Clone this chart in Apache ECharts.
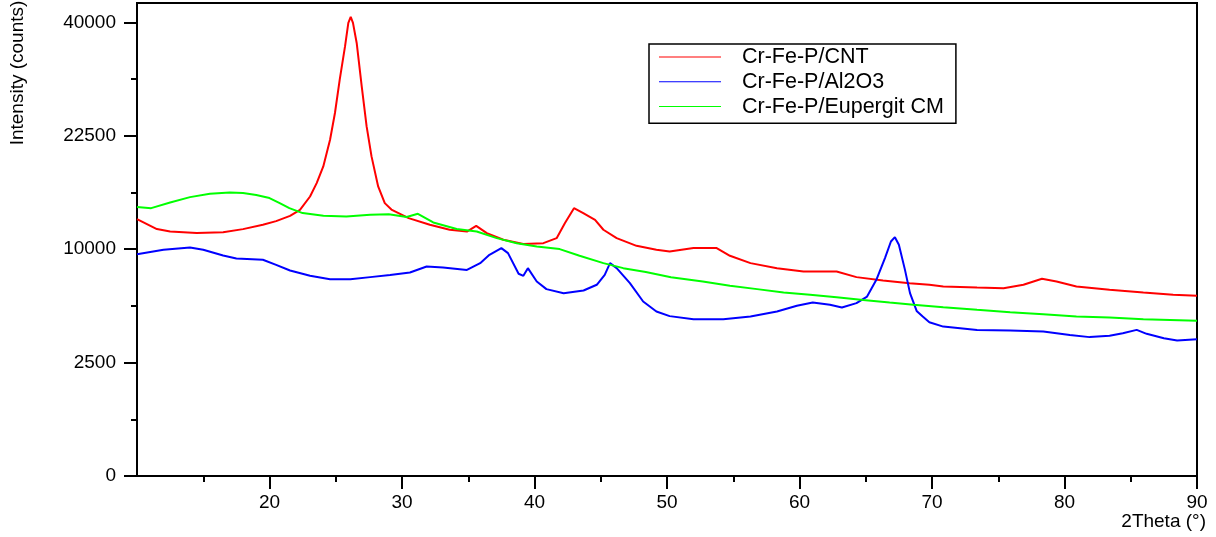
<!DOCTYPE html>
<html>
<head>
<meta charset="utf-8">
<script src="https://cdn.jsdelivr.net/npm/echarts@6/dist/echarts.min.js"></script>
<style>
  html, body { margin: 0; padding: 0; background: #fff; }
  #chart { width: 1216px; height: 537px; }
</style>
</head>
<body>
<div id="chart"></div>
<script>
// Data
const seriesNames = ['Cr-Fe-P/CNT', 'Cr-Fe-P/Al2O3', 'Cr-Fe-P/Eupergit CM'];

const cntTheta = [10, 11.5, 12.5, 14.5, 16.5, 18, 19.5, 20.5, 21.55, 22.3, 23.06, 23.56, 24.06, 24.57, 24.94, 25.3, 25.7, 25.95, 26.13, 26.3, 26.58, 26.96, 27.33, 27.7, 28.2, 28.7, 29.2, 30.5, 32.1, 33.6, 34.9, 35.6, 36.4, 37.65, 39.16, 40.67, 41.67, 42.3, 42.98, 43.68, 44.57, 45.2, 46.2, 47.7, 49.2, 50.2, 52, 53.75, 54.75, 56.3, 58.3, 60.3, 62.8, 64.3, 66.3, 68.3, 69.8, 70.85, 73.4, 75.4, 76.9, 78.3, 79.4, 80.9, 83.4, 85.95, 88.2, 90];
const cntCounts = [12830, 11860, 11620, 11470, 11560, 11850, 12270, 12630, 13160, 13780, 15190, 16680, 18630, 21980, 25620, 30540, 35880, 39910, 40970, 39910, 36460, 29520, 23760, 19860, 16300, 14480, 13800, 12930, 12270, 11790, 11620, 12170, 11470, 10850, 10460, 10540, 11000, 12440, 13950, 13440, 12760, 11790, 11000, 10300, 9950, 9800, 10100, 10100, 9430, 8810, 8400, 8130, 8130, 7690, 7430, 7230, 7110, 6980, 6910, 6860, 7110, 7560, 7350, 6980, 6740, 6540, 6380, 6310];

const al2o3Theta = [10, 12, 14, 15, 16.5, 17.5, 19.5, 20.5, 21.55, 23.06, 24.57, 26.1, 27.6, 29.1, 30.6, 31.86, 33.1, 34.9, 35.9, 36.6, 37.5, 38, 38.8, 39.16, 39.5, 40.17, 40.9, 42.2, 43.7, 44.7, 45.3, 45.7, 46.2, 47.2, 48.2, 49.2, 50.2, 52, 54.25, 56.3, 58.3, 59.8, 61, 62.3, 63.2, 64.3, 65.1, 65.8, 66.45, 66.9, 67.2, 67.5, 67.96, 68.34, 68.84, 69.3, 69.8, 70.85, 73.4, 75.9, 78.4, 80.4, 81.9, 83.4, 84.4, 85.45, 86.2, 87.5, 88.5, 90];
const al2o3Counts = [9570, 9950, 10150, 9950, 9450, 9200, 9090, 8670, 8210, 7790, 7530, 7530, 7690, 7850, 8050, 8530, 8450, 8260, 8810, 9510, 10100, 9660, 7950, 7790, 8400, 7350, 6790, 6500, 6690, 7110, 7870, 8810, 8400, 7230, 5920, 5260, 4970, 4780, 4780, 4940, 5260, 5630, 5850, 5700, 5520, 5810, 6260, 7480, 9230, 10690, 11090, 10390, 8260, 6500, 5300, 4940, 4600, 4340, 4150, 4110, 4060, 3870, 3750, 3820, 3960, 4150, 3930, 3690, 3570, 3640];

const eupTheta = [10, 11.07, 12.5, 14, 15.5, 17, 18, 19, 20, 20.77, 21.5, 22.5, 24.07, 25.8, 27.6, 29, 30.35, 31.2, 32.36, 34.13, 35.64, 37.15, 38.66, 40.17, 41.9, 43.4, 45.2, 46.7, 48.4, 50.3, 52.7, 54.75, 56.8, 58.8, 60.8, 62.8, 64.8, 66.8, 68.6, 70.85, 73.4, 75.9, 78.4, 80.9, 83.4, 85.95, 90];
const eupCounts = [14060, 13950, 14550, 15120, 15490, 15630, 15560, 15350, 15020, 14480, 13950, 13440, 13160, 13090, 13270, 13320, 13050, 13370, 12500, 11860, 11620, 11000, 10540, 10240, 10010, 9430, 8810, 8400, 8090, 7680, 7350, 7030, 6790, 6540, 6380, 6220, 6030, 5850, 5700, 5540, 5370, 5220, 5090, 4940, 4880, 4780, 4680];

const xTicks = [20, 30, 40, 50, 60, 70, 80, 90];
const xMinorTicks = [15, 25, 35, 45, 55, 65, 75, 85];
const yTicks = [0, 2500, 10000, 22500, 40000];
const yMinorTicks = [625, 5625, 15625, 30625];
const yTopCounts = 43500;

const elChart = document.getElementById('chart');
const chart = echarts.init(elChart);

const fontFamily = '"Liberation Sans", Arial, sans-serif';
const black = '#000';

// intensity axis is square-root scaled
function toAxis(counts) {
    return Math.sqrt(counts);
}

function pairs(theta, counts) {
    return theta.map((t, i) => [t, toAxis(counts[i])]);
}

function lineSeries(name, theta, counts, color) {
    return {
        name: name,
        type: 'line',
        xAxisIndex: 0,
        yAxisIndex: 0,
        symbol: 'none',
        lineStyle: { color: color, width: 2 },
        itemStyle: { color: color },
        data: pairs(theta, counts),
    };
}

const option = {
    animation: false,
    backgroundColor: '#fff',

    grid: {
        left: 137,
        right: 19,
        top: 3,
        bottom: 61,
        show: true,
        borderColor: black,
        borderWidth: 2,
    },

    legend: {
        data: seriesNames,
        orient: 'vertical',
        left: 649,
        top: 44,
        padding: [2, 12, 5.6, 10],
        icon: 'rect',
        itemWidth: 62,
        itemHeight: 1,
        itemGap: 2.8,
        borderColor: black,
        borderWidth: 1.5,
        selectedMode: false,
        textStyle: {
            fontFamily: fontFamily,
            fontSize: 21.5,
            color: black,
            padding: [0, 0, 0, 16],
        },
    },

    xAxis: [
        {
            type: 'value',
            min: 10,
            max: 90,
            interval: 10,
            splitLine: { show: false },
            axisLine: { lineStyle: { color: black, width: 2 } },
            axisTick: { customValues: xTicks, length: 13, lineStyle: { color: black, width: 2 } },
            axisLabel: { customValues: xTicks, margin: 17, color: black, fontSize: 19, fontFamily: fontFamily },
            name: '2Theta (°)',
            nameLocation: 'end',
            nameGap: 9,
            nameTextStyle: {
                color: black,
                fontSize: 19,
                fontFamily: fontFamily,
                align: 'right',
                verticalAlign: 'top',
                padding: [36, 0, 0, 0],
            },
        },
        {
            type: 'value',
            position: 'bottom',
            min: 10,
            max: 90,
            interval: 10,
            splitLine: { show: false },
            axisLine: { show: false },
            axisLabel: { show: false },
            axisTick: { customValues: xMinorTicks, length: 6, lineStyle: { color: black, width: 2 } },
        },
    ],

    yAxis: [
        {
            type: 'value',
            min: 0,
            max: toAxis(yTopCounts),
            interval: 50,
            splitLine: { show: false },
            axisLine: { lineStyle: { color: black, width: 2 } },
            axisTick: { customValues: yTicks.map(toAxis), length: 13, lineStyle: { color: black, width: 2 } },
            axisLabel: {
                customValues: yTicks.map(toAxis),
                margin: 21,
                color: black,
                fontSize: 19,
                fontFamily: fontFamily,
                formatter: (v) => String(Math.round(v * v)),
            },
        },
        {
            type: 'value',
            position: 'left',
            min: 0,
            max: toAxis(yTopCounts),
            interval: 50,
            splitLine: { show: false },
            axisLine: { show: false },
            axisLabel: { show: false },
            axisTick: { customValues: yMinorTicks.map(toAxis), length: 6, lineStyle: { color: black, width: 2 } },
        },
    ],

    graphic: [
        {
            type: 'text',
            x: 18,
            y: 73,
            rotation: Math.PI / 2,
            style: {
                text: 'Intensity (counts)',
                fontFamily: fontFamily,
                fontSize: 19,
                fill: black,
                align: 'center',
                verticalAlign: 'middle',
            },
        },
    ],

    series: [
        lineSeries(seriesNames[0], cntTheta, cntCounts, '#ff0000'),
        lineSeries(seriesNames[1], al2o3Theta, al2o3Counts, '#0000ff'),
        lineSeries(seriesNames[2], eupTheta, eupCounts, '#00ff00'),
    ],
};

chart.setOption(option);
</script>
</body>
</html>
